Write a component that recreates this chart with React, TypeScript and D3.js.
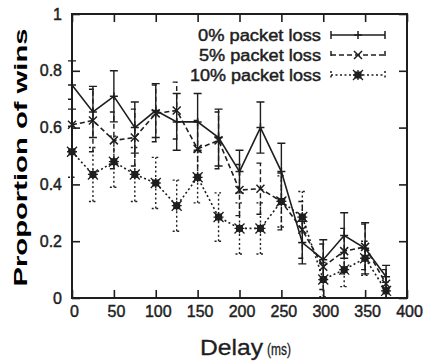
import { useEffect, useRef } from "react";
import * as d3 from "d3";

// Delay (ms) on the x axis
const delays = [0, 25, 50, 75, 100, 125, 150, 175, 200, 225, 250, 275, 300, 325, 350, 375];

// proportion of wins per packet-loss level, with the half-height of each error bar
const loss0 = [0.75, 0.655, 0.71, 0.6, 0.66, 0.62, 0.62, 0.565, 0.445, 0.6, 0.445, 0.195, 0.135, 0.22, 0.175, 0.075];
const err0 = [0.085, 0.09, 0.09, 0.09, 0.095, 0.1, 0.1, 0.1, 0.075, 0.09, 0.1, 0.075, 0.07, 0.08, 0.09, 0.04];
const loss5 = [0.61, 0.625, 0.555, 0.565, 0.65, 0.66, 0.525, 0.555, 0.38, 0.385, 0.34, 0.24, 0.11, 0.165, 0.18, 0.05];
const err5 = [0.09, 0.11, 0.1, 0.1, 0.1, 0.1, 0.1, 0.1, 0.09, 0.09, 0.1, 0.1, 0.08, 0.08, 0.08, 0.05];
const loss10 = [0.515, 0.435, 0.48, 0.435, 0.405, 0.325, 0.425, 0.285, 0.245, 0.245, 0.34, 0.285, 0.065, 0.1, 0.14, 0.025];
const err10 = [0.09, 0.095, 0.09, 0.095, 0.09, 0.09, 0.09, 0.085, 0.09, 0.09, 0.09, 0.09, 0.06, 0.06, 0.06, 0.03];

const xTicks = [0, 50, 100, 150, 200, 250, 300, 350, 400];
const yTicks = [0, 0.2, 0.4, 0.6, 0.8, 1];

const series = [
  { label: "0% packet loss", values: loss0, errors: err0, dash: null, marker: "plus" },
  { label: "5% packet loss", values: loss5, errors: err5, dash: "5,3", marker: "cross" },
  { label: "10% packet loss", values: loss10, errors: err10, dash: "2,2.5", marker: "star" },
];
const legendWidths = [123, 122, 131];

const INK = "#1e1e1e";
const FONT = "'Liberation Sans', Arial, sans-serif";

const App = () => {
  const ref = useRef<SVGSVGElement | null>(null);

  useEffect(() => {
    document.body.style.margin = "0";
    if (!ref.current) return;
    const svg = d3.select(ref.current);
    svg.selectAll("*").remove();

    const W = 425;
    const H = 363;
    const m = { left: 72, right: 18, top: 14, bottom: 65 };

    const x = d3.scaleLinear().domain([0, 400]).range([m.left, W - m.right]);
    const y = d3.scaleLinear().domain([0, 1]).range([H - m.bottom, m.top]);

    svg.append("rect").attr("width", W).attr("height", H).attr("fill", "#fff");

    // axes with inward ticks on all four sides
    const styleAxis = (g: any) => {
      g.select(".domain").remove();
      g.selectAll("line").attr("stroke", INK).attr("stroke-width", 1.6);
      g.selectAll("text")
        .attr("fill", INK)
        .attr("stroke", INK)
        .attr("stroke-width", 0.45)
        .style("font-family", FONT)
        .style("font-size", "16px");
    };

    svg.append("g")
      .attr("transform", `translate(0,${y(0)})`)
      .call(d3.axisBottom(x).tickValues(xTicks).tickSize(-8).tickPadding(8).tickFormat((d: any) => `${d}`))
      .call(styleAxis)
      .selectAll("text")
      .attr("dx", 2);

    svg.append("g")
      .attr("transform", `translate(0,${y(1)})`)
      .call(d3.axisTop(x).tickValues(xTicks).tickSize(-8).tickFormat(() => ""))
      .call(styleAxis);

    svg.append("g")
      .attr("transform", `translate(${x(0)},0)`)
      .call(d3.axisLeft(y).tickValues(yTicks).tickSize(-8).tickPadding(10).tickFormat((d: any) => `${d}`))
      .call(styleAxis);

    svg.append("g")
      .attr("transform", `translate(${x(400)},0)`)
      .call(d3.axisRight(y).tickValues(yTicks).tickSize(-8).tickFormat(() => ""))
      .call(styleAxis);

    // frame
    svg.append("rect")
      .attr("x", x(0))
      .attr("y", y(1))
      .attr("width", x(400) - x(0))
      .attr("height", y(0) - y(1))
      .attr("fill", "none")
      .attr("stroke", INK)
      .attr("stroke-width", 2);

    const drawMarker = (g: any, kind: string, cx: number, cy: number) => {
      if (kind === "plus") {
        g.append("path")
          .attr("d", `M${cx - 4},${cy}H${cx + 4}M${cx},${cy - 4}V${cy + 4}`)
          .attr("stroke", INK).attr("stroke-width", 1.5);
      } else if (kind === "cross") {
        g.append("path")
          .attr("d", `M${cx - 4},${cy - 4}L${cx + 4},${cy + 4}M${cx - 4},${cy + 4}L${cx + 4},${cy - 4}`)
          .attr("stroke", INK).attr("stroke-width", 1.5);
      } else {
        g.append("path")
          .attr("d", `M${cx - 5},${cy - 5}L${cx + 5},${cy + 5}M${cx - 5},${cy + 5}L${cx + 5},${cy - 5}M${cx - 5},${cy}H${cx + 5}M${cx},${cy - 5}V${cy + 5}`)
          .attr("stroke", INK).attr("stroke-width", 1.3);
        g.append("rect")
          .attr("x", cx - 3.5).attr("y", cy - 3.5)
          .attr("width", 7).attr("height", 7)
          .attr("fill", INK);
      }
    };

    const line = d3.line<number>()
      .x((_, i) => x(delays[i]))
      .y((d) => y(d));

    series.forEach((s) => {
      const g = svg.append("g");
      // error bars
      s.values.forEach((v, i) => {
        const cx = x(delays[i]);
        const lo = y(Math.max(0, v - s.errors[i]));
        const hi = y(v + s.errors[i]);
        g.append("path")
          .attr("d", `M${cx},${lo}V${hi}M${cx - 4},${lo}H${cx + 4}M${cx - 4},${hi}H${cx + 4}`)
          .attr("fill", "none")
          .attr("stroke", INK)
          .attr("stroke-width", 1.4)
          .attr("stroke-dasharray", s.dash ?? null);
      });
      g.append("path")
        .datum(s.values)
        .attr("d", line)
        .attr("fill", "none")
        .attr("stroke", INK)
        .attr("stroke-width", 1.6)
        .attr("stroke-dasharray", s.dash ?? null);
      s.values.forEach((v, i) => drawMarker(g, s.marker, x(delays[i]), y(v)));
    });

    // legend
    const legend = svg.append("g");
    series.forEach((s, i) => {
      const cy = 35 + i * 20;
      legend.append("text")
        .attr("x", 321)
        .attr("y", cy + 5.5)
        .attr("text-anchor", "end")
        .attr("fill", INK)
        .attr("stroke", INK)
        .attr("stroke-width", 0.45)
        .attr("textLength", legendWidths[i])
        .attr("lengthAdjust", "spacingAndGlyphs")
        .style("font-family", FONT)
        .style("font-size", "16px")
        .text(s.label);
      legend.append("path")
        .attr("d", `M331,${cy}H385M331,${cy - 4}V${cy + 4}M385,${cy - 4}V${cy + 4}`)
        .attr("fill", "none")
        .attr("stroke", INK)
        .attr("stroke-width", 1.5)
        .attr("stroke-dasharray", s.dash ?? null);
      drawMarker(legend, s.marker, 358, cy);
    });

    // axis titles
    svg.append("text")
      .attr("transform", `translate(27,${(27 + 288) / 2}) rotate(-90)`)
      .attr("text-anchor", "middle")
      .attr("fill", "#000")
      .attr("textLength", 258)
      .attr("lengthAdjust", "spacingAndGlyphs")
      .style("font-family", FONT)
      .style("font-size", "19px")
      .style("font-weight", "700")
      .text("Proportion of wins");

    svg.append("text")
      .attr("x", 200)
      .attr("y", 355)
      .attr("fill", INK)
      .attr("stroke", INK)
      .attr("stroke-width", 0.3)
      .attr("textLength", 63)
      .attr("lengthAdjust", "spacingAndGlyphs")
      .style("font-family", FONT)
      .style("font-size", "22px")
      .text("Delay");
    svg.append("text")
      .attr("x", 267)
      .attr("y", 355)
      .attr("fill", INK)
      .attr("stroke", INK)
      .attr("stroke-width", 0.3)
      .attr("textLength", 24)
      .attr("lengthAdjust", "spacingAndGlyphs")
      .style("font-family", FONT)
      .style("font-size", "16px")
      .text("(ms)");
  }, []);

  return <svg ref={ref} width={425} height={363} style={{ display: "block" }} />;
};

export default App;
